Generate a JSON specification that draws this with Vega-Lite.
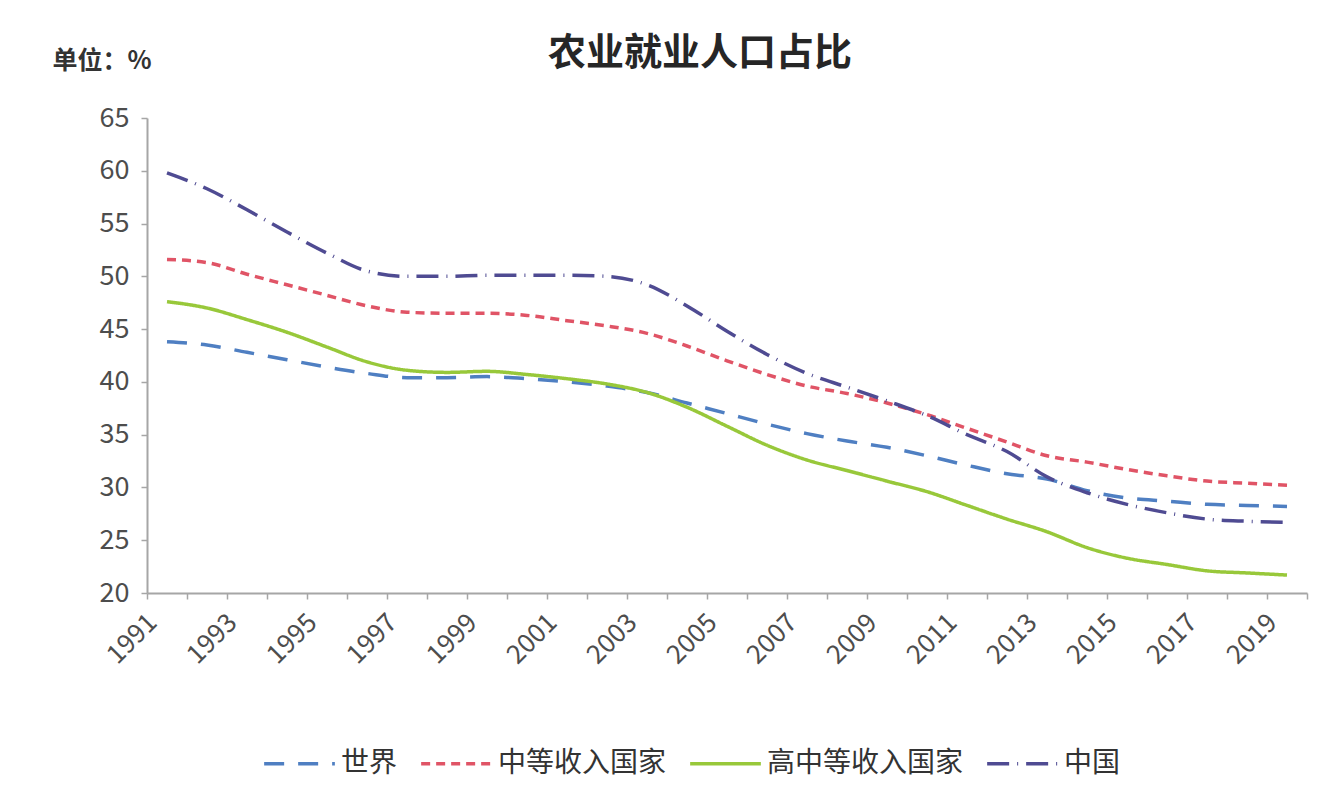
{
  "$schema": "https://vega.github.io/schema/vega-lite/v6.json",
  "width": 1160,
  "height": 475,
  "autosize": "none",
  "padding": {"left": 147, "top": 118, "right": 24, "bottom": 215},
  "background": "#ffffff",
  "config": {
    "font": "Noto Sans CJK SC",
    "view": {"stroke": null}
  },
  "title": {
    "text": "农业就业人口占比",
    "font": "Noto Sans CJK SC",
    "fontSize": 38,
    "fontWeight": "bold",
    "color": "#262626",
    "anchor": "middle",
    "frame": "group",
    "dx": -27,
    "dy": 25,
    "offset": 0
  },
  "data": {
    "values": [
      {"year": 1991, "世界": 43.8, "中等收入国家": 51.6, "高中等收入国家": 47.6, "中国": 59.8},
      {"year": 1992, "世界": 43.5, "中等收入国家": 51.3, "高中等收入国家": 47.0, "中国": 58.3},
      {"year": 1993, "世界": 42.8, "中等收入国家": 50.2, "高中等收入国家": 45.9, "中国": 56.3},
      {"year": 1994, "世界": 42.1, "中等收入国家": 49.2, "高中等收入国家": 44.7, "中国": 54.2},
      {"year": 1995, "世界": 41.4, "中等收入国家": 48.2, "高中等收入国家": 43.3, "中国": 52.2},
      {"year": 1996, "世界": 40.8, "中等收入国家": 47.2, "高中等收入国家": 41.9, "中国": 50.5},
      {"year": 1997, "世界": 40.4, "中等收入国家": 46.6, "高中等收入国家": 41.1, "中国": 50.0},
      {"year": 1998, "世界": 40.4, "中等收入国家": 46.5, "高中等收入国家": 40.9, "中国": 50.0},
      {"year": 1999, "世界": 40.5, "中等收入国家": 46.5, "高中等收入国家": 41.0, "中国": 50.1},
      {"year": 2000, "世界": 40.3, "中等收入国家": 46.3, "高中等收入国家": 40.7, "中国": 50.1},
      {"year": 2001, "世界": 40.0, "中等收入国家": 45.8, "高中等收入国家": 40.3, "中国": 50.1},
      {"year": 2002, "世界": 39.6, "中等收入国家": 45.3, "高中等收入国家": 39.8, "中国": 50.0},
      {"year": 2003, "世界": 39.0, "中等收入国家": 44.6, "高中等收入国家": 39.0, "中国": 49.2},
      {"year": 2004, "世界": 38.0, "中等收入国家": 43.4, "高中等收入国家": 37.6, "中国": 47.2},
      {"year": 2005, "世界": 37.0, "中等收入国家": 42.0, "高中等收入国家": 35.8, "中国": 44.8},
      {"year": 2006, "世界": 36.0, "中等收入国家": 40.7, "高中等收入国家": 34.0, "中国": 42.6},
      {"year": 2007, "世界": 35.1, "中等收入国家": 39.6, "高中等收入国家": 32.6, "中国": 40.8},
      {"year": 2008, "世界": 34.4, "中等收入国家": 38.9, "高中等收入国家": 31.6, "中国": 39.5},
      {"year": 2009, "世界": 33.8, "中等收入国家": 38.0, "高中等收入国家": 30.6, "中国": 38.2},
      {"year": 2010, "世界": 33.0, "中等收入国家": 36.9, "高中等收入国家": 29.6, "中国": 36.8},
      {"year": 2011, "世界": 32.1, "中等收入国家": 35.6, "高中等收入国家": 28.3, "中国": 35.0},
      {"year": 2012, "世界": 31.3, "中等收入国家": 34.3, "高中等收入国家": 27.0, "中国": 33.4},
      {"year": 2013, "世界": 30.8, "中等收入国家": 33.0, "高中等收入国家": 25.8, "中国": 31.0},
      {"year": 2014, "世界": 29.7, "中等收入国家": 32.4, "高中等收入国家": 24.3, "中国": 29.5},
      {"year": 2015, "世界": 29.0, "中等收入国家": 31.7, "高中等收入国家": 23.3, "中国": 28.4},
      {"year": 2016, "世界": 28.7, "中等收入国家": 31.1, "高中等收入国家": 22.7, "中国": 27.6},
      {"year": 2017, "世界": 28.4, "中等收入国家": 30.6, "高中等收入国家": 22.1, "中国": 27.0},
      {"year": 2018, "世界": 28.3, "中等收入国家": 30.4, "高中等收入国家": 21.9, "中国": 26.8},
      {"year": 2019, "世界": 28.2, "中等收入国家": 30.2, "高中等收入国家": 21.7, "中国": 26.7}
    ]
  },
  "transform": [
    {"fold": ["世界", "中等收入国家", "高中等收入国家", "中国"], "as": ["series", "value"]}
  ],
  "mark": {"type": "line", "interpolate": "monotone", "strokeWidth": 3.5},
  "encoding": {
    "x": {
      "field": "year",
      "type": "ordinal",
      "scale": {"type": "band", "paddingInner": 0, "paddingOuter": 0},
      "bandPosition": 0.5,
      "axis": {
        "title": null,
        "labelAngle": -45,
        "labelExpr": "datum.value % 2 == 1 ? datum.label : ''",
        "labelOverlap": false,
        "labelFontSize": 26,
        "labelColor": "#4d4d4d",
        "labelPadding": 10,
        "labelOffset": -24,
        "tickBand": "extent",
        "tickSize": 6,
        "tickColor": "#a6a6a6",
        "tickWidth": 1.5,
        "domainColor": "#a6a6a6",
        "domainWidth": 2,
        "grid": false
      }
    },
    "y": {
      "field": "value",
      "type": "quantitative",
      "scale": {"domain": [20, 65], "nice": false, "zero": false},
      "axis": {
        "values": [20, 25, 30, 35, 40, 45, 50, 55, 60, 65],
        "title": "单位：%",
        "titleAngle": 0,
        "titleAlign": "left",
        "titleBaseline": "middle",
        "titleX": -95,
        "titleY": -58,
        "titleFontSize": 25,
        "titleFontWeight": "bold",
        "titleColor": "#333333",
        "labelFontSize": 27,
        "labelColor": "#4d4d4d",
        "labelPadding": 12,
        "tickSize": 6,
        "tickColor": "#a6a6a6",
        "tickWidth": 1.5,
        "domainColor": "#a6a6a6",
        "domainWidth": 2,
        "grid": false
      }
    },
    "color": {
      "field": "series",
      "type": "nominal",
      "scale": {
        "domain": ["世界", "中等收入国家", "高中等收入国家", "中国"],
        "range": ["#4f7fc2", "#e05466", "#98c83a", "#4f4b92"]
      },
      "legend": {
        "orient": "none",
        "legendX": 115,
        "legendY": 608,
        "direction": "horizontal",
        "title": null,
        "symbolType": "stroke",
        "symbolSize": 5000,
        "symbolStrokeWidth": 3.5,
        "labelFontSize": 28,
        "labelLimit": 0,
        "labelColor": "#333333",
        "labelOffset": 4,
        "columnPadding": 16
      }
    },
    "strokeDash": {
      "field": "series",
      "type": "nominal",
      "scale": {
        "domain": ["世界", "中等收入国家", "高中等收入国家", "中国"],
        "range": [[20, 14], [9, 6], [1, 0], [22, 8, 1, 8]]
      },
      "legend": {
        "orient": "none",
        "legendX": 115,
        "legendY": 608,
        "direction": "horizontal",
        "title": null,
        "symbolType": "stroke",
        "symbolSize": 5000,
        "symbolStrokeWidth": 3.5,
        "labelFontSize": 28,
        "labelLimit": 0,
        "labelColor": "#333333",
        "labelOffset": 4,
        "columnPadding": 16
      }
    }
  }
}
